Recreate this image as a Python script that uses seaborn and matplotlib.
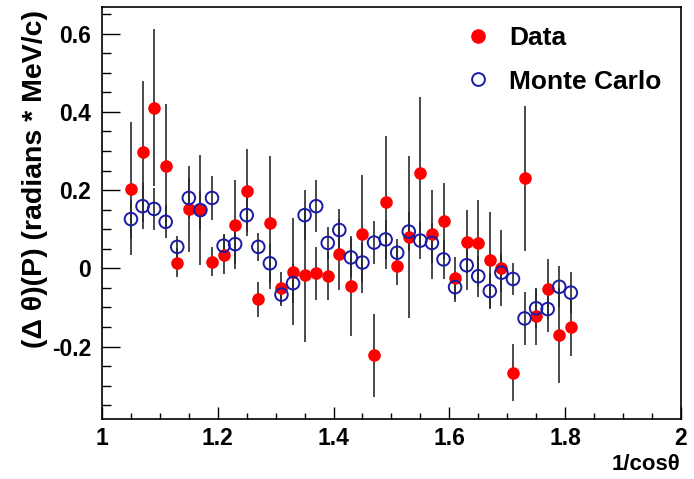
import numpy as np
import pandas as pd
import matplotlib
matplotlib.use("Agg")
import matplotlib.pyplot as plt
import seaborn as sns
from matplotlib.ticker import MultipleLocator
from matplotlib.lines import Line2D

# valori: 1/cos(theta) e delta theta
inv_cos = [1.05, 1.07, 1.09, 1.11, 1.13, 1.15, 1.17, 1.19, 1.21, 1.23,
           1.25, 1.27, 1.29, 1.31, 1.33, 1.35, 1.37, 1.39, 1.41, 1.43,
           1.45, 1.47, 1.49, 1.51, 1.53, 1.55, 1.57, 1.59, 1.61, 1.63,
           1.65, 1.67, 1.69, 1.71, 1.73, 1.75, 1.77, 1.79, 1.81]

data_val = [0.203, 0.298, 0.411, 0.263, 0.015, 0.153, 0.149, 0.017, 0.035, 0.112,
            0.199, -0.079, 0.117, -0.050, -0.009, -0.017, -0.013, -0.020, 0.036, -0.045,
            0.088, -0.222, 0.169, 0.007, 0.081, 0.245, 0.087, 0.122, -0.025, 0.068,
            0.066, 0.021, 0.000, -0.267, 0.230, -0.122, -0.053, -0.171, -0.151]
data_err = [0.170, 0.180, 0.200, 0.157, 0.036, 0.110, 0.140, 0.037, 0.050, 0.114,
            0.105, 0.045, 0.170, 0.040, 0.137, 0.171, 0.068, 0.061, 0.091, 0.128,
            0.151, 0.106, 0.170, 0.050, 0.207, 0.194, 0.113, 0.097, 0.054, 0.081,
            0.110, 0.122, 0.097, 0.073, 0.185, 0.073, 0.076, 0.122, 0.073]

mc_val = [0.126, 0.159, 0.152, 0.119, 0.055, 0.180, 0.149, 0.180, 0.058, 0.062,
          0.136, 0.055, 0.013, -0.067, -0.038, 0.136, 0.159, 0.065, 0.098, 0.028,
          0.015, 0.066, 0.074, 0.040, 0.094, 0.071, 0.065, 0.023, -0.048, 0.008,
          -0.020, -0.058, -0.011, -0.027, -0.128, -0.102, -0.104, -0.047, -0.062]
mc_err = [0.050, 0.059, 0.054, 0.042, 0.028, 0.050, 0.050, 0.056, 0.030, 0.050,
          0.054, 0.036, 0.050, 0.030, 0.050, 0.064, 0.067, 0.041, 0.055, 0.050,
          0.050, 0.054, 0.050, 0.036, 0.050, 0.048, 0.050, 0.049, 0.037, 0.063,
          0.052, 0.047, 0.050, 0.041, 0.068, 0.050, 0.058, 0.053, 0.053]

df = pd.DataFrame({"x": inv_cos, "data": data_val, "data_err": data_err,
                   "mc": mc_val, "mc_err": mc_err})

sns.set_style("white")
plt.rcParams["font.family"] = ["Liberation Sans", "DejaVu Sans"]
plt.rcParams["font.weight"] = "bold"
plt.rcParams["axes.unicode_minus"] = False
plt.rcParams["text.color"] = "black"
plt.rcParams["axes.labelcolor"] = "black"
plt.rcParams["xtick.color"] = "black"
plt.rcParams["ytick.color"] = "black"

RED = "#ff0000"
BLUE = "#1a1aa6"

fig = plt.figure(figsize=(6.94, 4.79), dpi=100)
ax = fig.add_axes([0.147, 0.1253, 0.834, 0.8595])

# barre d'errore
ax.errorbar(df["x"], df["data"], yerr=df["data_err"], fmt="none",
            ecolor="#2a2a2a", elinewidth=1.2, capsize=0, zorder=1)
ax.errorbar(df["x"], df["mc"], yerr=df["mc_err"], fmt="none",
            ecolor="#2a2a2a", elinewidth=1.2, capsize=0, zorder=1)

# punti
sns.scatterplot(data=df, x="x", y="data", color=RED, s=82, marker="o",
                edgecolor=RED, linewidth=0, ax=ax, zorder=2)
sns.scatterplot(data=df, x="x", y="mc", facecolor="none", s=82, marker="o",
                edgecolor=BLUE, linewidth=1.4, ax=ax, zorder=3)

ax.set_xlim(1.0, 2.0)
ax.set_ylim(-0.385, 0.6675)

ax.xaxis.set_major_locator(MultipleLocator(0.2))
ax.xaxis.set_minor_locator(MultipleLocator(0.05))
ax.yaxis.set_major_locator(MultipleLocator(0.2))
ax.yaxis.set_minor_locator(MultipleLocator(0.05))
ax.xaxis.set_major_formatter(lambda v, p: "%g" % round(v, 2))
ax.yaxis.set_major_formatter(lambda v, p: "%g" % round(v, 2))

ax.tick_params(axis="both", which="both", direction="in", top=False, right=False,
               bottom=True, left=True, labelsize=16.5, width=1, color="black")
ax.tick_params(axis="x", which="major", length=8.6, pad=6)
ax.tick_params(axis="x", which="minor", length=4.3)
ax.tick_params(axis="y", which="major", length=13, pad=8)
ax.tick_params(axis="y", which="minor", length=6.5)
for s in ax.spines.values():
    s.set_linewidth(1.2)
    s.set_color("black")

ax.set_xlabel("1/cosθ", fontsize=16, fontweight="bold", loc="right")
ax.xaxis.set_label_coords(1.0, -0.085)
ax.set_ylabel("(Δ θ)(P) (radians * MeV/c)", fontsize=20.5, fontweight="bold", loc="top")
ax.yaxis.set_label_coords(-0.093, 0.993)

handles = [
    Line2D([], [], marker="o", linestyle="none", markerfacecolor=RED,
           markeredgecolor=RED, markersize=9.5),
    Line2D([], [], marker="o", linestyle="none", markerfacecolor="none",
           markeredgecolor=BLUE, markeredgewidth=1.4, markersize=9.2),
]
ax.legend(handles, ["Data", "Monte Carlo"], loc="upper left",
          bbox_to_anchor=(0.59, 1.0), frameon=False,
          prop={"weight": "bold", "size": 19}, handletextpad=0.6,
          labelspacing=0.75, borderaxespad=0.3, handlelength=1.2)

fig.savefig("out.png", dpi=100)
